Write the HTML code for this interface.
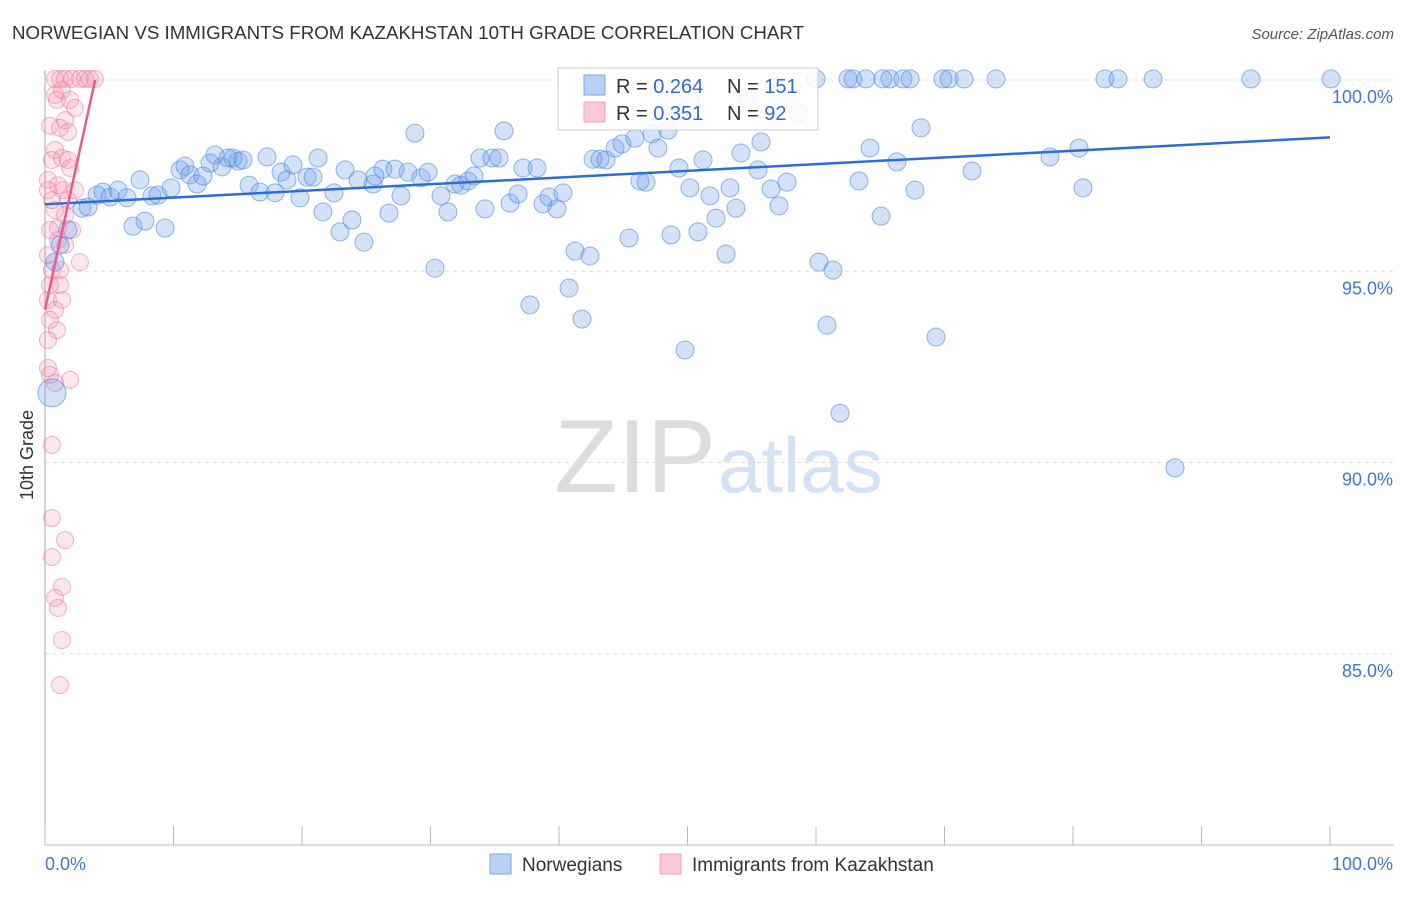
<!DOCTYPE html>
<html><head><meta charset="utf-8"><style>
body{margin:0;background:#fff;font-family:"Liberation Sans",sans-serif}
svg text{font-family:"Liberation Sans",sans-serif}
</style></head><body>
<svg id="chart" width="1406" height="892" xmlns="http://www.w3.org/2000/svg">
<text x="12" y="39" font-size="18" fill="#333" textLength="792" lengthAdjust="spacingAndGlyphs">NORWEGIAN VS IMMIGRANTS FROM KAZAKHSTAN 10TH GRADE CORRELATION CHART</text>
<text x="1394" y="39" font-size="15" fill="#555" text-anchor="end" font-style="italic">Source: ZipAtlas.com</text>
<text transform="translate(33,455) rotate(-90)" font-size="18" fill="#333" text-anchor="middle">10th Grade</text>
<text x="716" y="492" font-size="104" text-anchor="end" fill="#ddd" font-family="Liberation Serif">ZIP</text>
<text x="718" y="492" font-size="78" fill="#d4e2f5">atlas</text>
<g id="grid"></g>
<g id="ticks"></g>
<g id="pts"></g>
<g id="lines"></g>
<g>
<rect x="558" y="68" width="260" height="62" fill="#fff" fill-opacity="0.85" stroke="#ccc"/>
<rect x="584" y="75" width="21" height="20" fill="#b9d1f3" stroke="#7aa6e6"/>
<rect x="584" y="102" width="21" height="20" fill="#fbc9d7" stroke="#f3a3bb"/>
<text x="616" y="93" font-size="20" fill="#333">R = <tspan fill="#2f6bd0">0.264</tspan></text>
<text x="727" y="93" font-size="20" fill="#333">N = <tspan fill="#2f6bd0">151</tspan></text>
<text x="616" y="120" font-size="20" fill="#333">R =  <tspan fill="#2f6bd0">0.351</tspan></text>
<text x="727" y="120" font-size="20" fill="#333">N =  <tspan fill="#2f6bd0">92</tspan></text>
</g>
<g>
<rect x="490" y="854" width="21" height="20" fill="#b9d1f3" stroke="#7aa6e6"/>
<text x="522" y="871" font-size="19" fill="#333">Norwegians</text>
<rect x="660" y="854" width="21" height="20" fill="#fbc9d7" stroke="#f3a3bb"/>
<text x="692" y="871" font-size="19" fill="#333">Immigrants from Kazakhstan</text>
</g>
</svg>
<script>
const yTicks=[100,95,90,85];
const yTickLabels=["100.0%","95.0%","90.0%","85.0%"];
const xTicks=[0,10,20,30,40,50,60,70,80,90,100];
const xEndLabels=["0.0%","100.0%"];
const bluePx=[[52,393],[60,245],[55,262],[68,230],[82,208],[88,207],[97,195],[103,192],[110,197],[118,190],[127,198],[133,226],[140,180],[145,221],[152,196],[158,195],[165,228],[171,188],[180,170],[185,166],[190,175],[197,184],[203,176],[210,163],[215,155],[222,167],[228,158],[233,158],[238,161],[243,160],[249,185],[260,192],[267,157],[275,193],[281,172],[287,180],[293,165],[300,198],[307,177],[313,177],[318,158],[323,212],[334,193],[340,232],[345,170],[352,220],[358,180],[364,242],[373,184],[375,176],[383,169],[389,213],[395,169],[401,196],[408,172],[415,133],[421,178],[428,172],[435,268],[441,196],[448,212],[455,184],[461,185],[468,181],[474,176],[480,158],[485,209],[492,158],[499,158],[504,131],[510,203],[518,194],[523,168],[530,305],[537,168],[543,204],[549,197],[557,209],[563,193],[569,288],[575,251],[582,319],[590,256],[593,159],[600,159],[606,160],[615,148],[622,144],[629,238],[635,138],[640,181],[646,182],[652,134],[658,148],[668,130],[671,235],[679,168],[685,350],[690,188],[698,232],[703,160],[710,196],[716,218],[726,254],[730,188],[736,208],[741,153],[747,97],[758,170],[761,142],[771,189],[779,206],[787,182],[798,113],[816,79],[819,262],[827,325],[833,270],[840,413],[848,79],[853,79],[859,181],[866,79],[870,148],[881,216],[883,79],[890,79],[897,162],[903,79],[910,79],[915,190],[921,128],[936,337],[943,79],[949,79],[964,79],[972,171],[996,79],[1050,157],[1079,148],[1083,188],[1105,79],[1118,79],[1153,79],[1175,468],[1251,79],[1331,79],[690,100]];
const pinkPx=[[55,79],[60,79],[65,79],[72,79],[80,79],[85,79],[90,79],[95,79],[62,90],[70,100],[57,100],[75,108],[65,120],[50,126],[60,128],[68,132],[55,150],[62,158],[70,168],[52,160],[48,180],[58,185],[63,190],[68,200],[55,210],[50,230],[58,240],[65,245],[48,255],[52,270],[60,285],[48,300],[55,310],[62,300],[80,262],[50,320],[57,330],[48,340],[50,375],[55,383],[70,380],[48,368],[52,445],[52,518],[65,540],[52,557],[62,587],[55,598],[58,608],[62,640],[60,685],[55,95],[48,190],[52,200],[58,228],[60,270],[50,285],[65,215],[68,160],[75,190],[72,230]];
const blueX=bluePx.map(p=>+((p[0]-45)/12.85).toFixed(2));
const blueY=bluePx.map(p=>+(100-(p[1]-80)/38.25).toFixed(2));
const pinkX=pinkPx.map(p=>+((p[0]-45)/12.85).toFixed(2));
const pinkY=pinkPx.map(p=>+(100-(p[1]-80)/38.25).toFixed(2));
const blueTrend=[[0,96.75],[100,98.5]];
const pinkTrend=[[0,94.0],[3.9,100.0]];
const sx=v=>45+v*12.85, sy=v=>80+(100-v)*38.25;
const NS="http://www.w3.org/2000/svg";
function mk(t,a,p){const e=document.createElementNS(NS,t);for(const k in a)e.setAttribute(k,a[k]);p.appendChild(e);return e;}
const grid=document.getElementById('grid'),ticks=document.getElementById('ticks');
yTicks.forEach((v,i)=>{
 const l=mk('line',{x1:45,x2:1394,y1:sy(v),y2:sy(v),stroke:'#ddd','stroke-dasharray':'4,4'},grid);
 
 
 const t=mk('text',{x:1393,y:sy(v)+23,'font-size':18,fill:'#3d78d6','text-anchor':'end'},ticks);
 t.textContent=yTickLabels[i];
 
 
});
const ax=mk('line',{x1:45,x2:45,y1:70,y2:845,stroke:'#aaa'},ticks);


const bx=mk('line',{x1:45,x2:1394,y1:845,y2:845,stroke:'#bbb'},ticks);


xTicks.forEach(v=>{const t=mk('line',{x1:sx(v),x2:sx(v),y1:826,y2:845,stroke:'#bbb'},ticks);
 
 });
[[0,'start',45],[100,'end',1393]].forEach((d,i)=>{const t=mk('text',{x:d[2],y:870,'font-size':18,fill:'#3d78d6','text-anchor':d[1]},ticks);t.textContent=xEndLabels[i];
 
 });
const pts=document.getElementById('pts');
pinkX.forEach((x,i)=>{const c=mk('circle',{cx:sx(x),cy:sy(pinkY[i]),r:8.5,fill:'rgba(245,140,170,0.22)',stroke:'rgba(235,120,155,0.55)'},pts);
 
 });
blueX.forEach((x,i)=>{const c=mk('circle',{cx:sx(x),cy:sy(blueY[i]),r:i==0?14:9,fill:'rgba(110,160,235,0.3)',stroke:'rgba(80,135,220,0.6)'},pts);
 
 });
const lines=document.getElementById('lines');
const bl=mk('line',{x1:sx(blueTrend[0][0]),y1:sy(blueTrend[0][1]),x2:sx(blueTrend[1][0]),y2:sy(blueTrend[1][1]),stroke:'#2a6fd6','stroke-width':2.5},lines);


const pl=mk('line',{x1:sx(pinkTrend[0][0]),y1:sy(pinkTrend[0][1]),x2:sx(pinkTrend[1][0]),y2:sy(pinkTrend[1][1]),stroke:'#ea5b8a','stroke-width':2.5},lines);


</script>
</body></html>
